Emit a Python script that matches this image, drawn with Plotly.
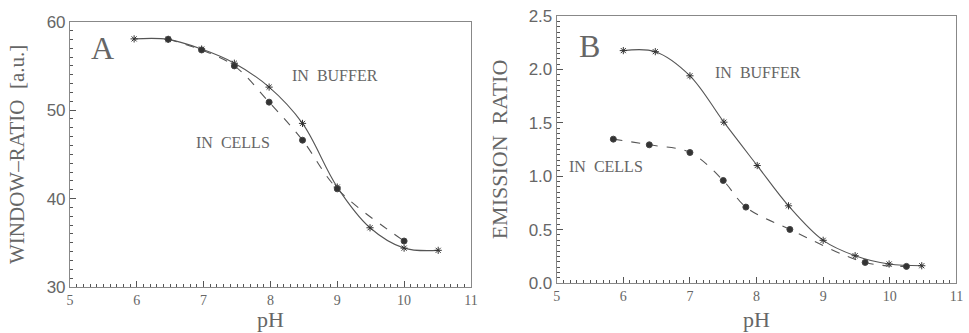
import plotly.graph_objects as go

# Panel A data
a_buf_x = [5.96, 6.47, 6.97, 7.46, 7.98, 8.48, 9.0, 9.49, 10.0, 10.51]
a_buf_y = [58.05, 58.0, 56.9, 55.3, 52.6, 48.5, 41.3, 36.7, 34.4, 34.15]
a_cel_x = [6.47, 6.97, 7.46, 7.98, 8.48, 9.0, 10.0]
a_cel_y = [58.0, 56.8, 55.0, 50.9, 46.6, 41.1, 35.2]

# Panel B data
b_buf_x = [6.0, 6.48, 7.0, 7.51, 8.01, 8.48, 9.0, 9.48, 9.99, 10.48]
b_buf_y = [2.176, 2.166, 1.94, 1.506, 1.10, 0.723, 0.40, 0.256, 0.178, 0.162]
b_cel_x = [5.85, 6.39, 7.0, 7.5, 7.84, 8.5, 9.63, 10.25]
b_cel_y = [1.347, 1.294, 1.222, 0.96, 0.711, 0.502, 0.193, 0.156]

LINE = "#555555"
TXT = "#666666"
SERIF = "Liberation Serif, DejaVu Serif, serif"

fig = go.Figure()

def add(x, y, xa, ya, dash, symbol, size):
    fig.add_trace(go.Scatter(
        x=x, y=y, xaxis=xa, yaxis=ya, mode="lines+markers",
        line=dict(color=LINE, width=1.1, dash=dash, shape="spline", smoothing=1.0),
        marker=dict(symbol=symbol, size=size, color="#333333",
                    line=dict(color="#444444", width=1)),
        showlegend=False, hoverinfo="skip"))

add(a_buf_x, a_buf_y, "x", "y", "solid", "asterisk-open", 6)
add(a_cel_x, a_cel_y, "x", "y", "dash", "circle", 6)
add(b_buf_x, b_buf_y, "x2", "y2", "solid", "asterisk-open", 6)
add(b_cel_x, b_cel_y, "x2", "y2", "dash", "circle", 6)

def xax(domain, anchor):
    return dict(domain=domain, anchor=anchor, range=[5, 11],
                tickmode="linear", tick0=5, dtick=1,
                automargin=False,
                ticks="inside", ticklen=6, tickcolor="#555", showgrid=False,
                zeroline=False, showline=True, linecolor="#888", linewidth=1,
                mirror=True,
                minor=dict(ticks="inside", tickmode="linear", tick0=5, dtick=0.1,
                           ticklen=3, tickcolor="#555", tickwidth=1, showgrid=False),
                tickfont=dict(family=SERIF, size=14, color=TXT))

def yax(domain, anchor, rng, dtick, mdtick, title, fmt, standoff, tsize):
    return dict(domain=domain, anchor=anchor, range=rng,
                tickmode="linear", dtick=dtick, tick0=rng[0],
                automargin=False,
                ticks="inside", ticklen=6, tickcolor="#555", showgrid=False,
                zeroline=False, showline=True, linecolor="#888", linewidth=1,
                mirror=True, tickformat=fmt,
                minor=dict(ticks="inside", tickmode="linear", tick0=rng[0], dtick=mdtick,
                           ticklen=3, tickcolor="#555", tickwidth=1, showgrid=False),
                tickfont=dict(family="Liberation Sans, Arial, sans-serif", size=17, color=TXT),
                title=dict(text=title, font=dict(family=SERIF, size=tsize, color=TXT),
                           standoff=standoff))

fig.update_layout(
    width=969, height=333, margin=dict(l=0, r=0, t=0, b=0),
    paper_bgcolor="white", plot_bgcolor="white",
    xaxis=xax([0.0722, 0.486], "y"),
    yaxis=yax([0.138, 0.935], "x", [30, 60], 10, 1, "WINDOW\u2013RATIO  [a.u.]", "d", 16, 21),
    xaxis2=xax([0.5745, 0.987], "y2"),
    yaxis2=yax([0.150, 0.952], "x2", [0, 2.5], 0.5, 0.05, "EMISSION  RATIO", ".1f", 14, 22),
)

def label(text, x, y, xref, yref, size, xanchor="left", yanchor="middle"):
    fig.add_annotation(text=text, x=x, y=y, xref=xref, yref=yref, showarrow=False,
                       xanchor=xanchor, yanchor=yanchor,
                       font=dict(family=SERIF, size=size, color=TXT))

label("A", 5.28, 57.0, "x", "y", 32)
label("B", 5.3, 2.22, "x2", "y2", 32)
label("IN  BUFFER", 8.3, 53.9, "x", "y", 16)
label("IN  CELLS", 6.85, 46.3, "x", "y", 16)
label("IN  BUFFER", 7.35, 1.97, "x2", "y2", 16)
label("IN  CELLS", 5.15, 1.09, "x2", "y2", 16)
# x-axis titles
for xr in ("x", "x2"):
    fig.add_annotation(text="pH", x=8, y=0, xref=xr, yref="paper", showarrow=False,
                       xanchor="center", yanchor="bottom", yshift=0, borderpad=0,
                       font=dict(family=SERIF, size=22, color=TXT))

fig.write_html("out.html")
